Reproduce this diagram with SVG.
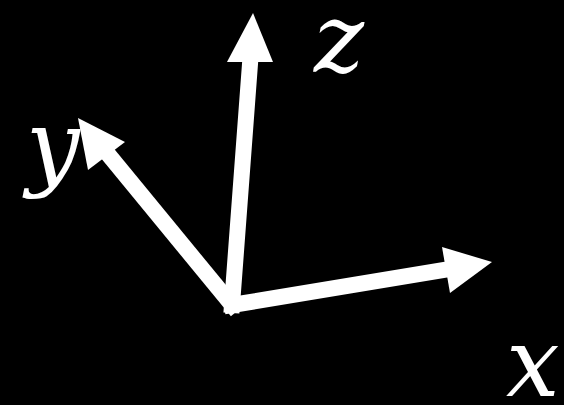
<svg xmlns="http://www.w3.org/2000/svg" width="564" height="405" viewBox="0 0 564 405">
<style>
.shaft{stroke:#fff;stroke-width:16;stroke-linecap:square;fill:none}
.head{fill:#fff}
.lbl{font-family:"DejaVu Serif",serif;font-style:italic;font-size:95px;fill:#fff}
</style>
<rect width="564" height="405" fill="#000"/>
<g id="connectors">
<line class="shaft" x1="232" y1="305" x2="250" y2="64"/>
<polygon class="head" points="253,13 273,62 227,62"/>
<line class="shaft" x1="232" y1="305" x2="108" y2="154"/>
<polygon class="head" points="78,118 125,142 88,170"/>
<line class="shaft" x1="232" y1="305" x2="444" y2="270"/>
<polygon class="head" points="492,262 442,247 450,293"/>
</g>
<g id="label-z"><text class="lbl" x="314" y="72">z</text></g>
<g id="label-y"><text class="lbl" x="26" y="178">y</text></g>
<g id="label-x"><text class="lbl" x="506" y="396">x</text></g>
</svg>
